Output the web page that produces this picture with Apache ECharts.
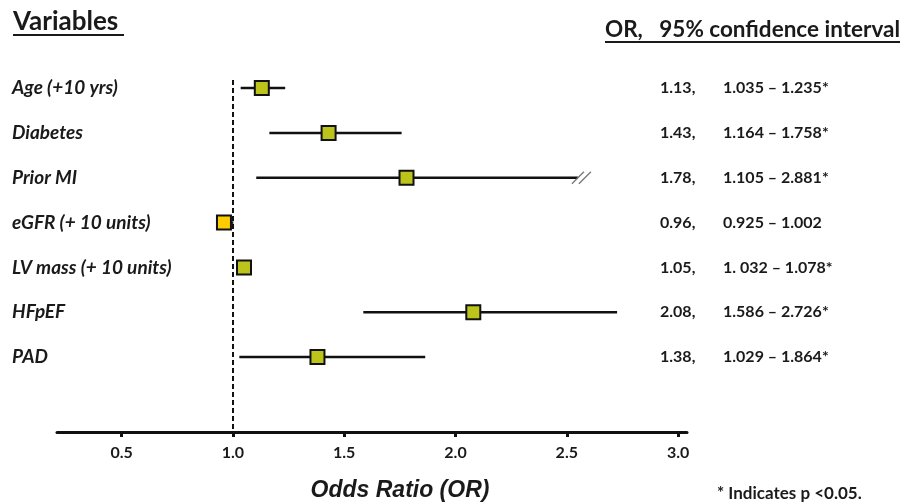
<!DOCTYPE html>
<html>
<head>
<meta charset="utf-8">
<script src="https://cdn.jsdelivr.net/npm/echarts@6/dist/echarts.min.js"></script>
<style>
  html, body { margin: 0; padding: 0; background: #fff; }
  #chart { width: 905px; height: 504px; }
</style>
</head>
<body>
<div id="chart"></div>
<script>
  // forest plot data
  var variables = ['Age (+10 yrs)', 'Diabetes', 'Prior MI', 'eGFR (+ 10 units)', 'LV mass (+ 10 units)', 'HFpEF', 'PAD'];
  var oddsRatio = [1.13, 1.43, 1.78, 0.96, 1.05, 2.08, 1.38];
  var ciLow = [1.035, 1.164, 1.105, 0.925, 1.032, 1.586, 1.029];
  var ciHigh = [1.235, 1.758, 2.881, 1.002, 1.078, 2.726, 1.864];
  var orText = ['1.13,', '1.43,', '1.78,', '0.96,', '1.05,', '2.08,', '1.38,'];
  var ciText = ['1.035 \u2013 1.235*', '1.164 \u2013 1.758*', '1.105 \u2013 2.881*', '0.925 \u2013 1.002',
                '1. 032 \u2013 1.078*', '1.586 \u2013 2.726*', '1.029 \u2013 1.864*'];
  var xTicks = [0.5, 1.0, 1.5, 2.0, 2.5, 3.0];
  // Prior MI's upper limit is cut off with a break mark in the figure
  var brokenRow = 'Prior MI';
  var breakAt = 2.55;

  var rowIdx = variables.map(function (v, i) { return i; });
  var seriesData = variables.map(function (v, i) {
    return [i, oddsRatio[i], ciLow[i], ciHigh[i]];
  });

  var ink = '#111';
  var olive = '#bcc31b';
  var yellow = '#ffcc00';
  var font = 'Lato';

  function renderItem(params, api) {
    var y = api.value(0);
    var or = api.value(1);
    var low = api.value(2);
    var high = api.value(3);
    var broken = variables[params.dataIndex] === brokenRow;
    var cut = broken ? Math.min(high, breakAt) : high;
    var pLow = api.coord([low, y]);
    var pHigh = api.coord([cut, y]);
    var pOr = api.coord([or, y]);
    var sig = low > 1 || high < 1;
    var kids = [{
      type: 'line',
      shape: {x1: pLow[0], y1: pLow[1], x2: pHigh[0], y2: pHigh[1]},
      style: {stroke: ink, lineWidth: 2.5}
    }];
    if (broken) {
      for (var k = 0; k < 2; k++) {
        var bx = pHigh[0] + k * 7;
        kids.push({
          type: 'line',
          shape: {x1: bx - 6, y1: pHigh[1] + 6, x2: bx + 6, y2: pHigh[1] - 6},
          style: {stroke: '#777', lineWidth: 1.3}
        });
      }
    }
    kids.push({
      type: 'rect',
      shape: {x: pOr[0] - 7, y: pOr[1] - 7, width: 14, height: 14},
      style: {fill: sig ? olive : yellow, stroke: ink, lineWidth: 2}
    });
    return {type: 'group', children: kids};
  }

  var myChart = echarts.init(document.getElementById('chart'));
  myChart.setOption({
    animation: false,
    grid: {left: 57, right: 218, top: 80, bottom: 72, containLabel: false, outerBoundsMode: 'none'},
    xAxis: {
      type: 'value',
      min: 0.21,
      max: 3.04,
      splitLine: {show: false},
      axisLine: {onZero: false, lineStyle: {color: ink, width: 3}},
      axisTick: {customValues: xTicks, length: 5, lineStyle: {color: ink, width: 3}},
      axisLabel: {
        customValues: xTicks,
        formatter: function (v) { return v.toFixed(1); },
        fontFamily: font, fontWeight: 'bold', fontSize: 16, color: '#1a1a1a', margin: 13
      },
      name: 'Odds Ratio (OR)',
      nameLocation: 'middle',
      nameGap: 47,
      nameTextStyle: {
        fontFamily: 'Liberation Sans', fontStyle: 'italic', fontWeight: 'bold',
        fontSize: 23, color: '#1a1a1a', padding: [0, 0, 0, 56]
      }
    },
    yAxis: [{
      type: 'value',
      inverse: true,
      min: -0.18,
      max: 7.67,
      splitLine: {show: false},
      axisLine: {show: false},
      axisTick: {show: false},
      axisLabel: {
        customValues: rowIdx,
        formatter: function (v) { return variables[v]; },
        align: 'left',
        margin: 45,
        fontFamily: font, fontStyle: 'italic', fontWeight: 'bold', fontSize: 19, color: '#1a1a1a'
      }
    }, {
      type: 'value',
      inverse: true,
      position: 'right',
      offset: -27,
      min: -0.18,
      max: 7.67,
      splitLine: {show: false},
      axisLine: {show: false},
      axisTick: {show: false},
      axisLabel: {
        customValues: rowIdx,
        formatter: function (v) { return '{or|' + orText[v] + '}{ci|' + ciText[v] + '}'; },
        align: 'left',
        margin: 0,
        rich: {
          or: {width: 63, fontFamily: font, fontWeight: 'bold', fontSize: 16, color: '#1a1a1a'},
          ci: {fontFamily: font, fontWeight: 'bold', fontSize: 16, color: '#1a1a1a'}
        }
      }
    }],
    series: [{
      type: 'custom',
      renderItem: renderItem,
      data: seriesData,
      encode: {x: [1, 2, 3], y: 0},
      z: 5,
      markLine: {
        silent: true,
        symbol: 'none',
        label: {show: false},
        lineStyle: {color: ink, width: 2, type: [5, 3]},
        data: [{xAxis: 1}]
      }
    }],
    graphic: [
      {type: 'text', left: 13, top: 9,
       style: {text: 'Variables', fontFamily: font, fontWeight: 'bold', fontSize: 26, fill: '#1a1a1a'}},
      {type: 'line', shape: {x1: 13, y1: 35, x2: 124, y2: 35}, style: {stroke: '#1a1a1a', lineWidth: 2}},
      {type: 'text', right: 5, top: 18,
       style: {text: 'OR,   95% confidence interval', fontFamily: font, fontWeight: 'bold', fontSize: 22.5, fill: '#1a1a1a'}},
      {type: 'line', shape: {x1: 605, y1: 42, x2: 900, y2: 42}, style: {stroke: '#1a1a1a', lineWidth: 2}},
      {type: 'text', left: 717, top: 485,
       style: {text: '* Indicates p <0.05.', fontFamily: font, fontWeight: 'bold', fontSize: 17, fill: '#1a1a1a'}}
    ]
  });
</script>
</body>
</html>
